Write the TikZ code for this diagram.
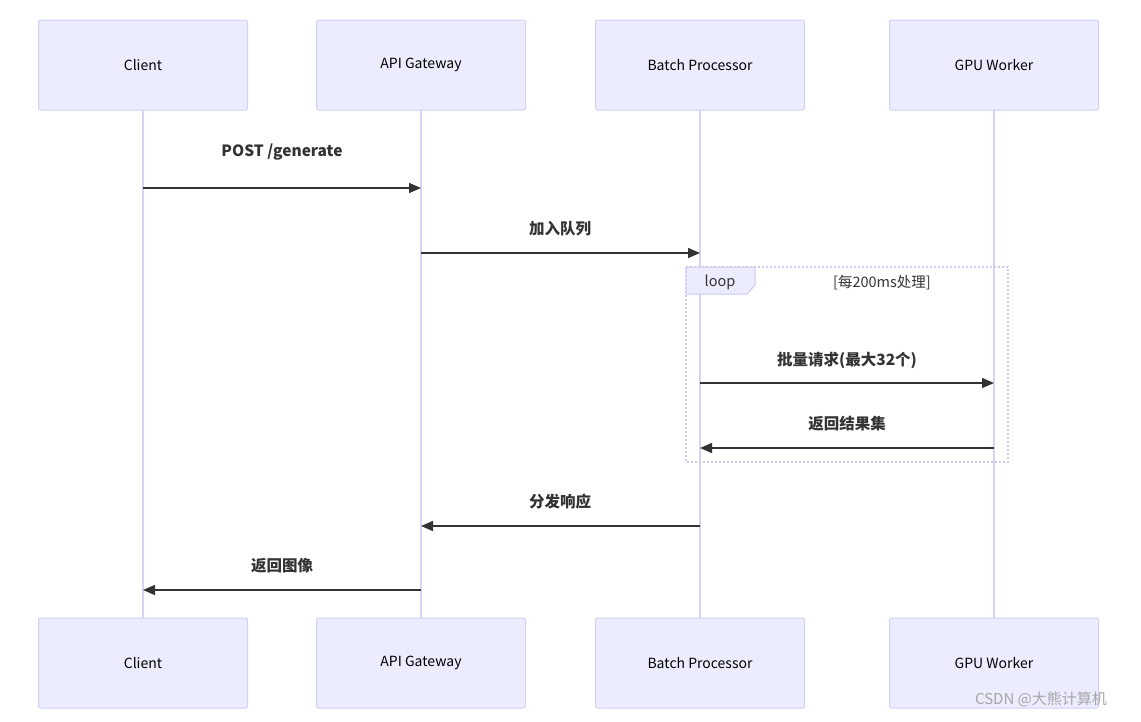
\documentclass[tikz,border=0pt]{standalone}
\usepackage{fontspec}
\setmainfont{Noto Sans CJK SC}
\usepackage{xcolor}
\definecolor{actorfill}{HTML}{ECECFF}
\definecolor{actorline}{HTML}{D6CFF5}
\definecolor{lifeline}{HTML}{D9D2F5}
\definecolor{msgcolor}{HTML}{333333}
\definecolor{loopline}{HTML}{CFC8F0}
\usetikzlibrary{arrows.meta}

\tikzset{
    actor/.style = {fill = actorfill, draw = actorline, line width = 1pt, rounded corners = 2pt, rectangle, minimum width = 209pt, minimum height = 90pt, font = \fontsize{14}{16}\selectfont},
    msg/.style = {-{Triangle[length = 12pt, width = 10pt]}, line width = 1.5pt, color = msgcolor},
    msglabel/.style = {font = \bfseries\fontsize{15.5}{18}\selectfont, text = msgcolor}
}

\begin{document}
\begin{tikzpicture}[x = 1pt, y = -1pt]
        \useasboundingbox (0, 0) rectangle (1141, 721);

        % Lifelines
        \draw [lifeline, line width = 1.5pt] (143, 110) -- (143, 618);
        \draw [lifeline, line width = 1.5pt] (421, 110) -- (421, 618);
        \draw [lifeline, line width = 1.5pt] (700, 110) -- (700, 618);
        \draw [lifeline, line width = 1.5pt] (994, 110) -- (994, 618);

        % Actors
        \node [actor] (client) at (143, 65) {Client};
        \node [actor] (api) at (421, 65) {API Gateway};
        \node [actor] (batch) at (700, 65) {Batch Processor};
        \node [actor] (gpu) at (994, 65) {GPU Worker};
        \node [actor] (client2) at (143, 663) {Client};
        \node [actor] (api2) at (421, 663) {API Gateway};
        \node [actor] (batch2) at (700, 663) {Batch Processor};
        \node [actor] (gpu2) at (994, 663) {GPU Worker};

        % Loop frame
        \draw [loopline, line width = 2pt, dotted] (686, 267) rectangle (1008, 462);
        \draw [fill = actorfill, draw = loopline, line width = 1pt] (686, 267) -- (755, 267) -- (755, 285) -- (747, 294) -- (686, 294) -- cycle;
        \node [font = \fontsize{14.5}{16}\selectfont, text = msgcolor] (looptag) at (720, 282) {loop};
        \node [font = \fontsize{14.5}{16}\selectfont, text = msgcolor] (loopcond) at (882, 283) {[每200ms处理]};

        % Message anchors
        \coordinate (c1) at (143, 188); \coordinate (a1) at (421, 188);
        \coordinate (a2) at (421, 253); \coordinate (b2) at (700, 253);
        \coordinate (b3) at (700, 383); \coordinate (g3) at (994, 383);
        \coordinate (g4) at (994, 448); \coordinate (b4) at (700, 448);
        \coordinate (b5) at (700, 526); \coordinate (a5) at (421, 526);
        \coordinate (a6) at (421, 590); \coordinate (c6) at (143, 590);

        % Draw the messages
        \draw [msg] (c1) -- (a1);
        \draw [msg] (a2) -- (b2);
        \draw [msg] (b3) -- (g3);
        \draw [msg] (g4) -- (b4);
        \draw [msg] (b5) -- (a5);
        \draw [msg] (a6) -- (c6);

        % Message labels
        \node [msglabel] at (282, 152) {POST /generate};
        \node [msglabel] at (560, 229) {加入队列};
        \node [msglabel] at (847, 360) {批量请求(最大32个)};
        \node [msglabel] at (847, 424) {返回结果集};
        \node [msglabel] at (560, 502) {分发响应};
        \node [msglabel] at (282, 566) {返回图像};

        % Watermark
        \node [text = black!35, font = \fontsize{15}{17}\selectfont] at (1041, 699) {CSDN @大熊计算机};

    \end{tikzpicture}
\end{document}
